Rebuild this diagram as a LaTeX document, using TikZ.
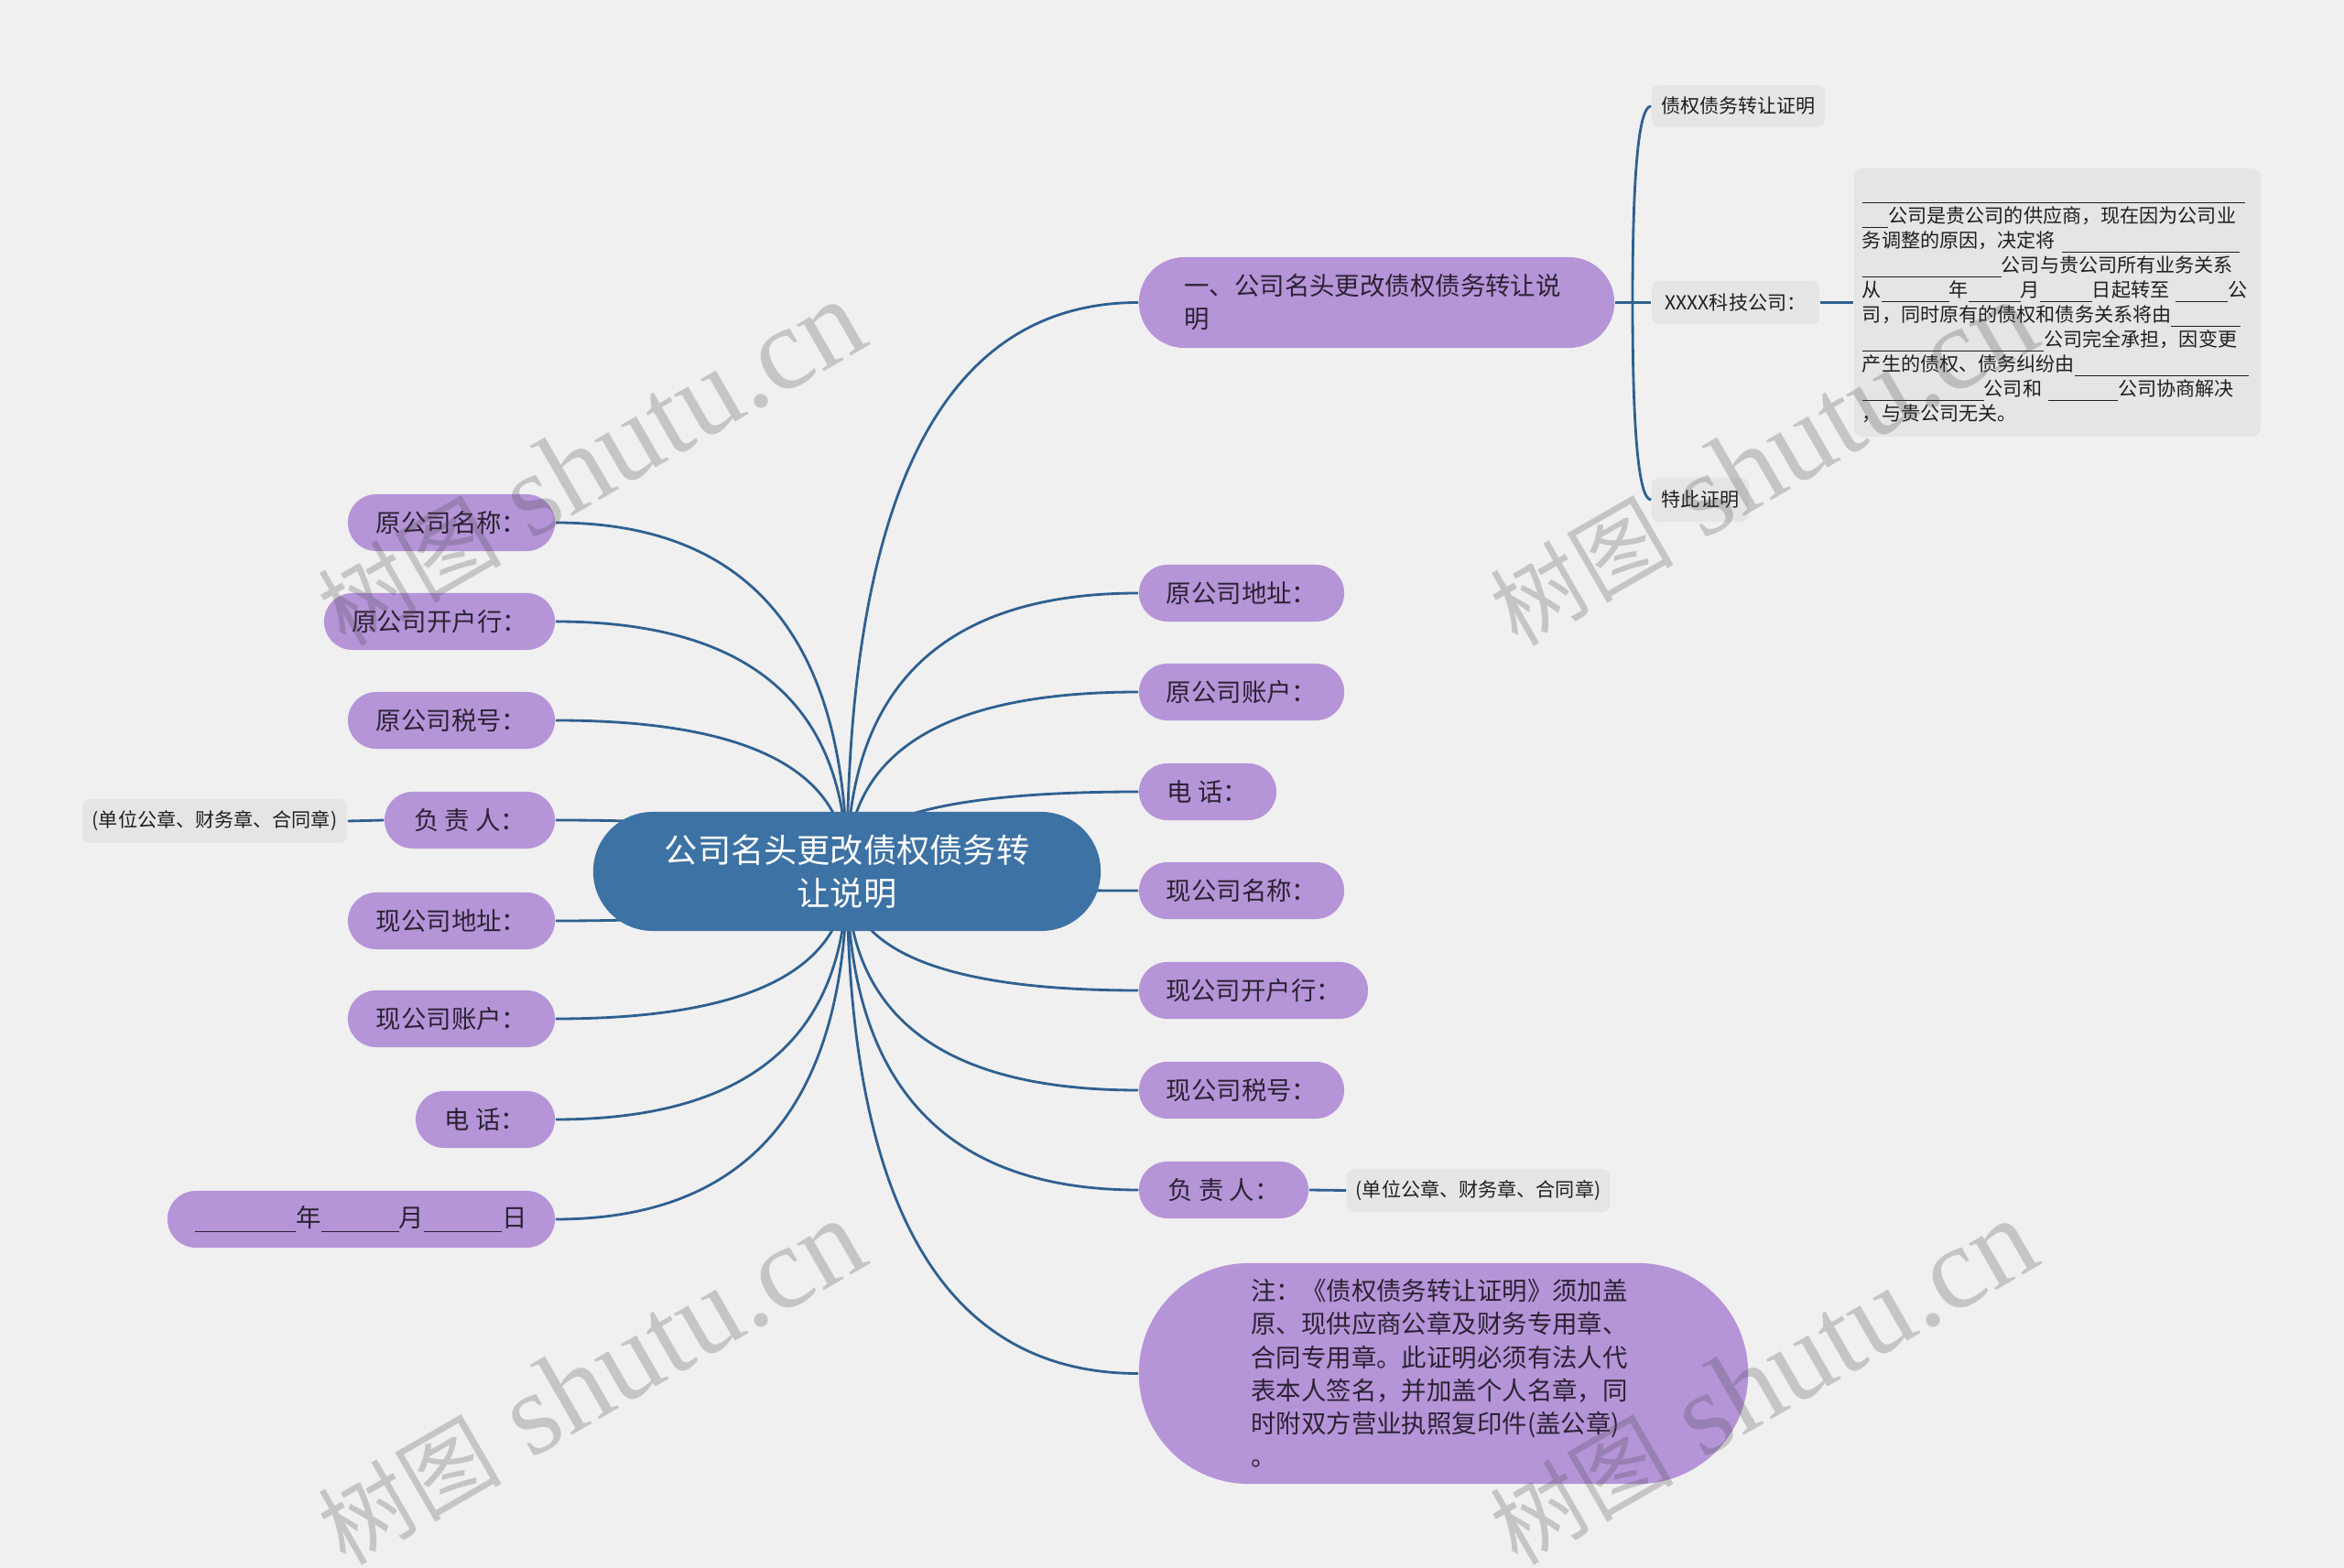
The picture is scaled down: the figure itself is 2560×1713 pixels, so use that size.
\documentclass[tikz,border=0pt]{standalone}
\usepackage{fontspec}
\setmainfont{Noto Sans CJK SC}
\newfontfamily\wmlat{Liberation Serif}
\usetikzlibrary{calc}
\definecolor{bgc}{HTML}{F0F0F0}
\definecolor{purp}{HTML}{B594D8}
\definecolor{mainblue}{HTML}{3D72A5}
\definecolor{linec}{HTML}{2F6090}
\definecolor{leafbg}{HTML}{E5E5E5}
\definecolor{ink}{HTML}{2B2233}
\newcommand\ub[1]{\rule[-1.6pt]{#1em}{0.35pt}}
\newcommand\mmcurve[2]{\draw[conn] (#1) .. controls ($(#1)!0.6667!(#1|-#2)$) and ($(#2)!0.6667!(#1|-#2)$) .. (#2);}
\newcommand\wmtext{{\fontsize{28.5pt}{28.5pt}\selectfont 树图}{\wmlat\fontsize{36.5pt}{36.5pt}\selectfont\ shutu.cn}}
\pgfdeclarelayer{backdrop}
\pgfdeclarelayer{lines}
\pgfsetlayers{backdrop,lines,main}
\begin{document}
\begin{tikzpicture}[x=0.01cm,y=-0.01cm,
  conn/.style={draw=linec, line width=0.8pt},
  pnode/.style={fill=purp, text=ink, rounded corners=0.31cm, minimum height=0.62cm, inner sep=0pt, font=\fontsize{7.8pt}{10.3pt}\selectfont},
  leaf/.style={fill=leafbg, text=black!88, rounded corners=0.08cm, inner sep=0pt, font=\fontsize{6pt}{7.7pt}\selectfont},
  wm/.style={rotate=30, text=black!72, text opacity=0.25, inner sep=0pt}
]
\begin{pgfonlayer}{backdrop}
\fill[bgc] (0,0) rectangle (2560,1713);
\end{pgfonlayer}
\useasboundingbox (0,0) rectangle (2560,1713);

% central
\node[fill=mainblue, text=white, rounded corners=0.65cm, minimum width=5.54cm, minimum height=1.3cm, inner sep=0pt, align=center, font=\fontsize{10.3pt}{13.4pt}\selectfont] (main) at (925,952) {公司名头更改债权债务转\\让说明};

% right side
\node[pnode, rounded corners=0.495cm, minimum width=5.19cm, minimum height=0.99cm, text width=4.2cm, align=left] (r0) at (1503.5,330.5) {一、公司名头更改债权债务转让说\\明};
\node[pnode, minimum width=2.24cm] (r1) at (1356,648) {原公司地址：};
\node[pnode, minimum width=2.24cm] (r2) at (1356,756) {原公司账户：};
\node[pnode, minimum width=1.50cm] (r3) at (1319,865) {电 话：};
\node[pnode, minimum width=2.24cm] (r4) at (1356,973) {现公司名称：};
\node[pnode, minimum width=2.50cm] (r5) at (1369,1082) {现公司开户行：};
\node[pnode, minimum width=2.24cm] (r6) at (1356,1191) {现公司税号：};
\node[pnode, minimum width=1.85cm] (r7) at (1336.5,1300) {负 责 人：};
\node[pnode, rounded corners=1.2cm, minimum width=6.65cm, minimum height=2.41cm, text width=4.2cm, align=left] (r8) at (1576.5,1500.5) {注：《债权债务转让证明》须加盖\\原、现供应商公章及财务专用章、\\合同专用章。此证明必须有法人代\\表本人签名，并加盖个人名章，同\\时附双方营业执照复印件(盖公章)\\。};

% left side
\node[pnode, minimum width=2.26cm] (l1) at (493,571) {原公司名称：};
\node[pnode, minimum width=2.52cm] (l2) at (480,679) {原公司开户行：};
\node[pnode, minimum width=2.26cm] (l3) at (493,787) {原公司税号：};
\node[pnode, minimum width=1.86cm] (l4) at (513,896) {负 责 人：};
\node[pnode, minimum width=2.26cm] (l5) at (493,1006) {现公司地址：};
\node[pnode, minimum width=2.26cm] (l6) at (493,1113) {现公司账户：};
\node[pnode, minimum width=1.52cm] (l7) at (530,1223) {电 话：};
\node[pnode, minimum width=4.23cm] (l8) at (394.5,1332) {\ub{4}年\ub{3.1}月\ub{3.1}日};

% leaves
\node[leaf, minimum width=2.89cm, minimum height=0.48cm] (ll) at (234.5,897) {(单位公章、财务章、合同章)};
\node[leaf, minimum width=2.87cm, minimum height=0.47cm] (rl) at (1614.5,1300.5) {(单位公章、财务章、合同章)};
\node[leaf, minimum width=1.89cm, minimum height=0.46cm] (s1) at (1898.5,116) {债权债务转让证明};
\node[leaf, minimum width=1.83cm, minimum height=0.47cm] (s2) at (1895.5,330.5) {XXXX科技公司：};
\node[leaf, minimum width=1.06cm, minimum height=0.48cm] (s3) at (1857,546) {特此证明};
\node[leaf, rounded corners=0.1cm, minimum width=4.44cm, minimum height=2.93cm, text width=4.26cm, align=left] (tb) at (2247,330.5) {\vphantom{公}\ub{19.8}\\
\ub{1.35}公司是贵公司的供应商，现在因为公司业\\
务调整的原因，决定将 \ub{9.2}\\
\ub{7.2}公司与贵公司所有业务关系\\
从\ub{3.5}年\ub{2.7}月\ub{2.7}日起转至 \ub{2.7}公\\
司，同时原有的债权和债务关系将由\ub{3.6}\\
\ub{9.4}公司完全承担，因变更\\
产生的债权、债务纠纷由\ub{9}\\
\ub{6.3}公司和 \ub{3.6}公司协商解决\\
，与贵公司无关。};

\coordinate (j0) at (1783,330.5);

% connectors
\begin{pgfonlayer}{lines}
\foreach \t in {r0,r1,r2,r3,r4,r5,r6,r7,r8} {\mmcurve{main.center}{\t.west}}
\foreach \t in {l1,l2,l3,l4,l5,l6,l7,l8} {\mmcurve{main.center}{\t.east}}
\draw[conn] (ll.east) -- (l4.west);
\draw[conn] (r7.east) -- (rl.west);
\draw[conn] (r0.east) -- (j0);
\mmcurve{j0}{s1.west}
\draw[conn] (j0) -- (s2.west);
\mmcurve{j0}{s3.west}
\draw[conn] (s2.east) -- (tb.west);
\end{pgfonlayer}

% watermarks
\node[wm] (w1) at (645,506) {\wmtext};
\node[wm] (w2) at (1925,506) {\wmtext};
\node[wm] (w3) at (645,1510) {\wmtext};
\node[wm] (w4) at (1925,1510) {\wmtext};
\end{tikzpicture}
\end{document}
